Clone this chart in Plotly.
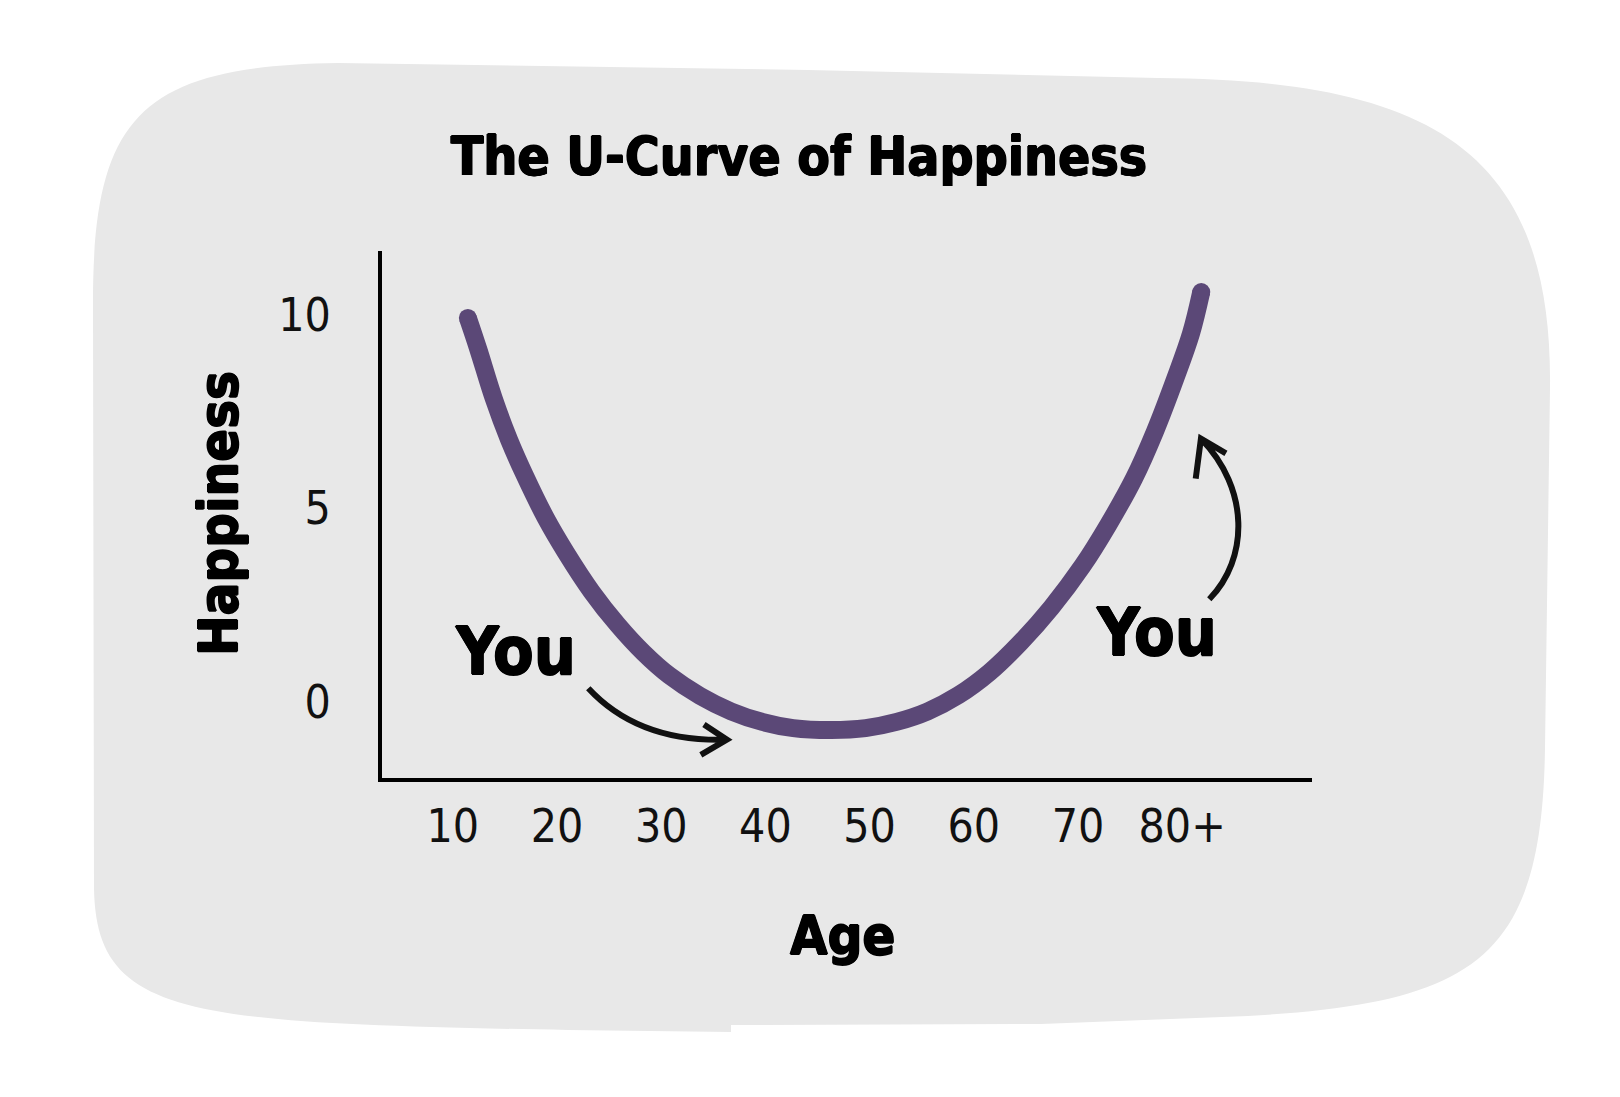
import plotly.graph_objects as go

# ---------------- data ----------------
ages = [11.44, 12.43, 13.92, 15.40, 16.89, 18.88, 20.85, 23.34, 25.82, 28.29, 30.77, 33.74,
        36.72, 39.69, 42.67, 46.34, 49.62, 52.59, 55.56, 58.53, 61.51, 64.48, 67.46, 70.43,
        72.92, 75.39, 77.38, 79.36, 80.85, 81.83]
happiness = [9.92, 9.12, 7.84, 6.77, 5.86, 4.77, 3.86, 2.84, 1.99, 1.27, 0.68, 0.15,
             -0.25, -0.52, -0.68, -0.73, -0.68, -0.52, -0.25, 0.17, 0.76, 1.53, 2.44, 3.51,
             4.58, 5.78, 6.98, 8.37, 9.52, 10.59]

x_tick_vals = [10, 20, 30, 40, 50, 60, 70, 80]
x_tick_text = ["10", "20", "30", "40", "50", "60", "70", "80+"]
y_tick_vals = [0, 5, 10]
y_tick_text = ["0", "5", "10"]

title_text = "The U-Curve of Happiness"
x_title = "Age"
y_title = "Happiness"
you_labels = ["You", "You"]
you_x = [16.0, 77.5]
you_y = [1.3, 1.8]

# ---------------- layout constants ----------------
W, H = 1620, 1097
ML, MR, MT, MB = 374, 316, 243, 327
PW, PH = W - ML - MR, H - MT - MB

CURVE = "#5b4877"
BLOB = "#e8e8e8"
HEAVY = "DejaVu Sans Condensed, DejaVu Sans, sans-serif"
TICKF = "DejaVu Sans Condensed, DejaVu Sans, sans-serif"
THICK = "0.8px 0 0 #000, -0.8px 0 0 #000, 0 0.8px 0 #000, 0 -0.8px 0 #000"


def P(px, py):
    x = (px - ML) / PW
    y = (MT + PH - py) / PH
    return f"{x:.5f},{y:.5f}"


blob_path = (
    "M " + P(86, 880) +
    " L " + P(85, 300) +
    " C " + P(84, 110) + " " + P(130, 58) + " " + P(330, 55) +
    " L " + P(800, 62) + " L " + P(1150, 70) +
    " C " + P(1420, 72) + " " + P(1545, 140) + " " + P(1542, 380) +
    " L " + P(1537, 740) +
    " C " + P(1534, 950) + " " + P(1470, 995) + " " + P(1240, 1008) +
    " L " + P(1033, 1016) + " L " + P(723, 1017) + " L " + P(723, 1024) + " L " + P(560, 1022) +
    " C " + P(180, 1015) + " " + P(88, 1010) + " " + P(86, 880) +
    " Z"
)

fig = go.Figure()

fig.add_trace(go.Scatter(
    x=ages, y=happiness, mode="lines",
    line=dict(color=CURVE, width=18, shape="spline", smoothing=1.0),
    hoverinfo="skip", showlegend=False))
fig.add_trace(go.Scatter(
    x=[ages[0], ages[-1]], y=[happiness[0], happiness[-1]], mode="markers",
    marker=dict(color=CURVE, size=18, line=dict(width=0)),
    hoverinfo="skip", showlegend=False))

shapes = [
    dict(type="path", xref="paper", yref="paper", path=blob_path,
         fillcolor=BLOB, line=dict(width=0), layer="below"),
    dict(type="path", xref="x", yref="y",
         path="M 23.0,0.35 Q 27.8,-1.05 36.3,-0.98 M 34.1,-0.59 L 36.3,-0.98 L 33.8,-1.37",
         line=dict(color="#111111", width=6), layer="above"),
    dict(type="path", xref="x", yref="y",
         path="M 82.6,2.65 C 86.4,3.7 86.5,5.5 81.8,6.8 M 84.2,6.42 L 81.8,6.8 L 81.3,5.77",
         line=dict(color="#111111", width=6), layer="above"),
]

annotations = []
for t, xv, yv in zip(you_labels, you_x, you_y):
    annotations.append(dict(text=t, x=xv, y=yv, xref="x", yref="y", showarrow=False,
                            xanchor="center", yanchor="middle",
                            font=dict(family=HEAVY, size=66, color="#000000", weight=700,
                                      shadow=THICK)))
annotations.append(dict(text=y_title, x=(210 - ML) / PW, y=(MT + PH - 506) / PH,
                        xref="paper", yref="paper", showarrow=False, textangle=-90,
                        xanchor="center", yanchor="middle",
                        font=dict(family=HEAVY, size=54, color="#000000", weight=700,
                                  shadow=THICK)))
annotations.append(dict(text=x_title, x=(834 - ML) / PW, y=(MT + PH - 927) / PH,
                        xref="paper", yref="paper", showarrow=False,
                        xanchor="center", yanchor="middle",
                        font=dict(family=HEAVY, size=54, color="#000000", weight=700,
                                  shadow=THICK)))

fig.update_layout(
    width=W, height=H,
    margin=dict(l=ML, r=MR, t=MT, b=MB, pad=0),
    paper_bgcolor="#ffffff",
    plot_bgcolor="rgba(0,0,0,0)",
    title=dict(text=title_text, x=791 / W, y=1 - 148 / H, xref="container", yref="container",
               xanchor="center", yanchor="middle",
               font=dict(family=HEAVY, size=53, color="#000000", weight=700, shadow=THICK)),
    shapes=shapes,
    annotations=annotations,
    showlegend=False,
)

fig.update_xaxes(range=[3.2, 92.46], showgrid=False, zeroline=False,
                 showline=True, linecolor="#000000", linewidth=4,
                 tickmode="array", tickvals=x_tick_vals, ticktext=x_tick_text,
                 ticks="", ticklabelstandoff=5,
                 tickfont=dict(family=TICKF, size=46, color="#111111"))
fig.update_yaxes(range=[-1.97, 11.65], showgrid=False, zeroline=False,
                 showline=True, linecolor="#000000", linewidth=4,
                 tickmode="array", tickvals=y_tick_vals, ticktext=y_tick_text,
                 ticks="", ticklabelstandoff=38,
                 tickfont=dict(family=TICKF, size=46, color="#111111"))

fig.write_html("out.html")
